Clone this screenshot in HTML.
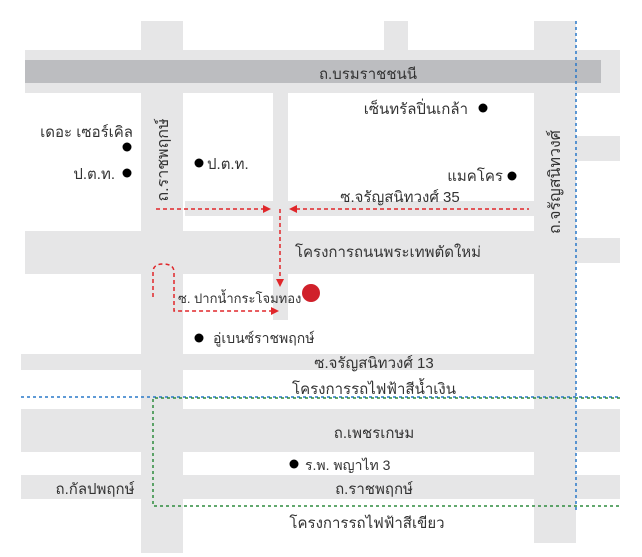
<!DOCTYPE html>
<html><head><meta charset="utf-8"><style>
html,body{margin:0;padding:0;background:#fff;}
svg{display:block;}
text{font-family:"Liberation Sans","DejaVu Sans",sans-serif;font-size:15px;fill:#333;}
</style></head><body>
<svg width="642" height="557" viewBox="0 0 642 557" xmlns="http://www.w3.org/2000/svg">
<g fill="#e6e6e7">
<rect x="141" y="21" width="42" height="532"/>
<rect x="384" y="21" width="24" height="40"/>
<rect x="534" y="21" width="42" height="522"/>
<rect x="25" y="50" width="595" height="43"/>
<rect x="576" y="136" width="44" height="25"/>
<rect x="576" y="238" width="44" height="25"/>
<rect x="273" y="93" width="15" height="227"/>
<rect x="185" y="201" width="349" height="15"/>
<rect x="25" y="231" width="509" height="43"/>
<rect x="21" y="354" width="513" height="16"/>
<rect x="21" y="409" width="599" height="43"/>
<rect x="21" y="475" width="599" height="24"/>
</g>
<rect x="25" y="60" width="576" height="23" fill="#bcbdc0"/>
<line x1="576" y1="21" x2="576" y2="513" stroke="#2a78c8" stroke-width="1.5" stroke-dasharray="3,3"/>
<line x1="21" y1="397" x2="620" y2="397" stroke="#2a78c8" stroke-width="1.5" stroke-dasharray="3,3"/>
<path d="M620 398 H153 V506 H620" fill="none" stroke="#2e8b3e" stroke-width="1.5" stroke-dasharray="3,3"/>
<g stroke="#e0262a" stroke-width="1.5" stroke-dasharray="4,3" fill="none">
<line x1="156" y1="209" x2="264" y2="209"/>
<line x1="296" y1="209" x2="529" y2="209"/>
<line x1="280" y1="209" x2="280" y2="280"/>
<path d="M153 297 V272 Q153 264 163 264 Q174 264 174 272 V311 H272"/>
</g>
<g fill="#e0262a">
<polygon points="271,209 263,205 263,213"/>
<polygon points="289,209 297,205 297,213"/>
<polygon points="280,287 276,279 284,279"/>
<polygon points="279,311 271,307 271,315"/>
<circle cx="311" cy="293" r="9" fill="#d0202a"/>
</g>
<g fill="#000">
<circle cx="483" cy="108" r="4.5"/>
<circle cx="127" cy="147" r="4.5"/>
<circle cx="127" cy="173" r="4.5"/>
<circle cx="199" cy="163" r="4.5"/>
<circle cx="512" cy="176" r="4.5"/>
<circle cx="199" cy="338" r="4.5"/>
<circle cx="294" cy="464" r="4.5"/>
</g>
<text x="368" y="79" text-anchor="middle">ถ.บรมราชชนนี</text>
<text x="468" y="114" text-anchor="end">เซ็นทรัลปิ่นเกล้า</text>
<text x="133" y="137" text-anchor="end">เดอะ เซอร์เคิล</text>
<text x="115" y="179" text-anchor="end">ป.ต.ท.</text>
<text x="207" y="169">ป.ต.ท.</text>
<text x="503" y="181" text-anchor="end">แมคโคร</text>
<text x="400" y="202" text-anchor="middle">ซ.จรัญสนิทวงศ์ 35</text>
<text transform="translate(168,160) rotate(-90)" text-anchor="middle" style="font-size:16px">ถ.ราชพฤกษ์</text>
<text transform="translate(560,182) rotate(-90)" text-anchor="middle" style="font-size:16px">ถ.จรัญสนิทวงศ์</text>
<text x="388" y="257" text-anchor="middle">โครงการถนนพระเทพตัดใหม่</text>
<text x="178" y="303" style="font-size:13px">ซ. ปากน้ำกระโจมทอง</text>
<text x="213" y="343" style="font-size:14px">อู่เบนซ์ราชพฤกษ์</text>
<text x="374" y="368" text-anchor="middle">ซ.จรัญสนิทวงศ์ 13</text>
<text x="374" y="394" text-anchor="middle">โครงการรถไฟฟ้าสีน้ำเงิน</text>
<text x="374" y="438" text-anchor="middle">ถ.เพชรเกษม</text>
<text x="305" y="470" style="font-size:14px">ร.พ. พญาไท 3</text>
<text x="95" y="494" text-anchor="middle">ถ.กัลปพฤกษ์</text>
<text x="374" y="494" text-anchor="middle">ถ.ราชพฤกษ์</text>
<text x="367" y="528" text-anchor="middle">โครงการรถไฟฟ้าสีเขียว</text>
</svg>
</body></html>
